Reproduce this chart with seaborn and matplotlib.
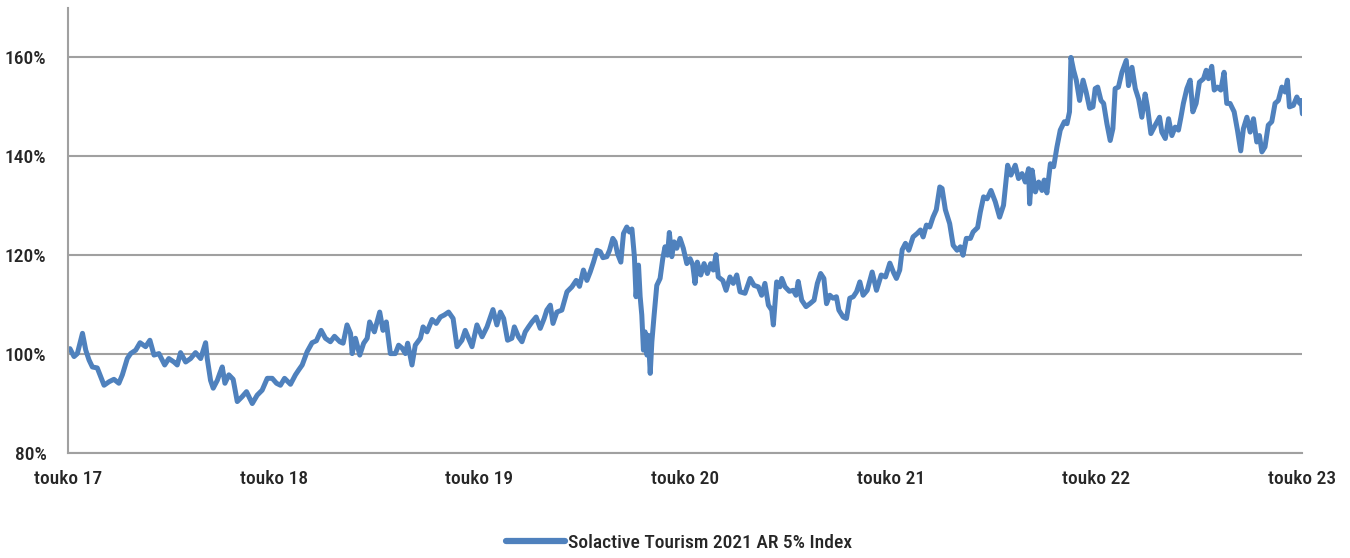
import pandas as pd
import numpy as np
import matplotlib
matplotlib.use("Agg")
import matplotlib.pyplot as plt
import seaborn as sns
from matplotlib.ticker import PercentFormatter
from matplotlib import font_manager

# decimal years, with the index level in %
year_pos = [
    2017.338, 2017.358, 2017.374, 2017.399, 2017.415, 2017.431, 2017.447, 2017.471, 2017.488, 2017.504,
    2017.528, 2017.552, 2017.576, 2017.593, 2017.617, 2017.633, 2017.658, 2017.679, 2017.706, 2017.727,
    2017.747, 2017.771, 2017.799, 2017.819, 2017.844, 2017.860, 2017.876, 2017.901, 2017.925, 2017.949,
    2017.974, 2017.998, 2018.006, 2018.022, 2018.035, 2018.055, 2018.067, 2018.079, 2018.092, 2018.111,
    2018.132, 2018.152, 2018.176, 2018.197, 2018.225, 2018.249, 2018.273, 2018.298, 2018.322, 2018.343,
    2018.362, 2018.382, 2018.411, 2018.435, 2018.451, 2018.468, 2018.492, 2018.516, 2018.537, 2018.560,
    2018.581, 2018.605, 2018.625, 2018.651, 2018.667, 2018.686, 2018.703, 2018.711, 2018.727, 2018.748,
    2018.767, 2018.784, 2018.796, 2018.819, 2018.845, 2018.861, 2018.877, 2018.897, 2018.921, 2018.937,
    2018.954, 2018.970, 2018.981, 2019.002, 2019.018, 2019.043, 2019.056, 2019.075, 2019.100, 2019.120,
    2019.140, 2019.159, 2019.180, 2019.202, 2019.221, 2019.245, 2019.261, 2019.277, 2019.294, 2019.318,
    2019.343, 2019.367, 2019.396, 2019.415, 2019.432, 2019.448, 2019.467, 2019.488, 2019.500, 2019.520,
    2019.537, 2019.553, 2019.569, 2019.586, 2019.606, 2019.626, 2019.645, 2019.658, 2019.675, 2019.688,
    2019.707, 2019.731, 2019.756, 2019.780, 2019.801, 2019.817, 2019.836, 2019.853, 2019.869, 2019.885,
    2019.902, 2019.918, 2019.931, 2019.950, 2019.963, 2019.979, 2019.990, 2020.002, 2020.018, 2020.031,
    2020.047, 2020.060, 2020.072, 2020.084, 2020.092, 2020.104, 2020.112, 2020.120, 2020.128, 2020.136,
    2020.145, 2020.152, 2020.161, 2020.169, 2020.180, 2020.193, 2020.209, 2020.222, 2020.233, 2020.245,
    2020.254, 2020.266, 2020.277, 2020.290, 2020.306, 2020.322, 2020.339, 2020.355, 2020.368, 2020.379,
    2020.390, 2020.407, 2020.423, 2020.439, 2020.455, 2020.468, 2020.481, 2020.492, 2020.514, 2020.530,
    2020.549, 2020.565, 2020.582, 2020.598, 2020.622, 2020.647, 2020.666, 2020.687, 2020.703, 2020.719,
    2020.736, 2020.752, 2020.760, 2020.776, 2020.792, 2020.801, 2020.817, 2020.838, 2020.857, 2020.870,
    2020.881, 2020.898, 2020.919, 2020.938, 2020.958, 2020.974, 2020.990, 2021.003, 2021.016, 2021.032,
    2021.048, 2021.064, 2021.076, 2021.097, 2021.113, 2021.129, 2021.146, 2021.162, 2021.178, 2021.194,
    2021.214, 2021.238, 2021.259, 2021.282, 2021.303, 2021.324, 2021.343, 2021.356, 2021.372, 2021.384,
    2021.400, 2021.416, 2021.437, 2021.457, 2021.473, 2021.486, 2021.502, 2021.518, 2021.534, 2021.550,
    2021.567, 2021.578, 2021.594, 2021.615, 2021.632, 2021.651, 2021.667, 2021.680, 2021.696, 2021.716,
    2021.729, 2021.751, 2021.764, 2021.780, 2021.797, 2021.816, 2021.837, 2021.858, 2021.877, 2021.897,
    2021.913, 2021.934, 2021.950, 2021.967, 2021.983, 2021.999, 2022.004, 2022.016, 2022.032, 2022.048,
    2022.064, 2022.075, 2022.088, 2022.105, 2022.121, 2022.137, 2022.153, 2022.173, 2022.186, 2022.198,
    2022.205, 2022.218, 2022.231, 2022.247, 2022.264, 2022.279, 2022.296, 2022.312, 2022.323, 2022.335,
    2022.351, 2022.364, 2022.380, 2022.396, 2022.409, 2022.420, 2022.436, 2022.453, 2022.474, 2022.485,
    2022.502, 2022.518, 2022.534, 2022.550, 2022.566, 2022.577, 2022.594, 2022.615, 2022.636, 2022.647,
    2022.664, 2022.680, 2022.696, 2022.712, 2022.728, 2022.740, 2022.752, 2022.769, 2022.785, 2022.798,
    2022.814, 2022.830, 2022.850, 2022.863, 2022.874, 2022.890, 2022.902, 2022.918, 2022.934, 2022.950,
    2022.963, 2022.979, 2022.999, 2023.015, 2023.031, 2023.044, 2023.061, 2023.077, 2023.093, 2023.109,
    2023.122, 2023.134, 2023.149, 2023.165, 2023.182, 2023.198, 2023.214, 2023.231, 2023.247, 2023.258,
    2023.268, 2023.287, 2023.304, 2023.318, 2023.325, 2023.331,
]
index_pct = [
    101.1, 99.5, 100.1, 104.2, 100.8, 98.8, 97.4, 97.2, 95.4, 93.7,
    94.4, 94.9, 94.1, 95.8, 99.1, 100.1, 100.8, 102.3, 101.5, 102.8,
    99.8, 100.1, 97.8, 99.1, 98.4, 97.8, 100.3, 98.4, 99.1, 100.3,
    99.1, 102.3, 99.1, 94.7, 93.1, 94.7, 96.1, 97.4, 94.1, 95.8,
    94.9, 90.4, 91.4, 92.4, 90.0, 91.7, 92.7, 95.1, 95.1, 94.1,
    93.7, 95.1, 93.9, 95.8, 96.8, 97.8, 100.5, 102.3, 102.7, 104.8,
    103.2, 102.5, 103.6, 102.5, 102.2, 105.9, 104.2, 100.1, 103.2, 99.8,
    102.2, 103.2, 106.5, 104.5, 108.5, 104.8, 106.5, 100.1, 100.1, 101.8,
    101.2, 100.1, 102.2, 97.8, 101.8, 103.2, 105.5, 104.5, 107.0, 106.2,
    107.5, 107.9, 108.5, 107.2, 101.5, 102.8, 104.8, 103.2, 101.5, 105.9,
    103.5, 105.5, 109.0, 105.9, 108.5, 107.2, 102.8, 103.2, 105.5, 103.5,
    102.5, 104.5, 105.5, 106.5, 107.5, 105.2, 107.2, 108.9, 109.9, 106.2,
    108.5, 108.9, 112.6, 113.6, 114.9, 113.7, 117.0, 114.9, 116.6, 118.6,
    121.0, 120.7, 119.5, 119.7, 121.0, 123.4, 122.7, 120.3, 118.6, 124.4,
    125.7, 124.7, 125.3, 119.7, 111.6, 118.0, 111.6, 107.9, 100.8, 104.5,
    99.8, 103.8, 96.1, 102.5, 107.9, 113.9, 115.3, 119.3, 121.7, 120.0,
    124.6, 119.7, 122.7, 121.4, 123.4, 121.4, 118.3, 119.3, 118.0, 114.3,
    118.6, 116.0, 118.3, 116.3, 118.3, 117.0, 120.1, 115.6, 114.9, 112.9,
    115.6, 114.3, 116.0, 112.6, 112.3, 115.3, 113.9, 113.6, 111.9, 114.3,
    109.9, 108.9, 105.9, 114.6, 113.6, 115.3, 113.6, 112.7, 112.9, 111.9,
    114.7, 110.9, 109.6, 110.2, 110.9, 114.3, 116.3, 115.3, 110.2, 111.9,
    111.3, 111.6, 108.9, 107.5, 107.2, 111.3, 111.6, 112.6, 114.6, 111.9,
    112.9, 116.6, 112.9, 116.0, 115.6, 118.4, 116.4, 115.3, 117.0, 121.1,
    122.4, 121.0, 123.7, 124.4, 125.1, 123.7, 126.1, 125.7, 127.7, 129.2,
    133.8, 133.5, 129.2, 126.4, 122.0, 121.0, 121.7, 120.0, 123.4, 123.4,
    124.7, 125.6, 128.7, 131.8, 131.4, 133.1, 130.8, 127.7, 130.1, 138.2,
    136.2, 138.2, 135.5, 136.5, 134.8, 137.5, 130.4, 137.2, 132.8, 134.8,
    133.1, 135.2, 132.6, 138.5, 137.9, 141.9, 145.3, 147.0, 146.6, 149.0,
    160.0, 157.4, 155.4, 151.3, 155.4, 153.0, 149.7, 150.0, 153.7, 154.0,
    151.3, 150.7, 146.6, 143.2, 145.6, 153.7, 154.0, 157.0, 159.4, 154.3,
    158.0, 153.7, 151.6, 147.9, 152.6, 150.0, 144.6, 146.3, 147.9, 144.9,
    143.6, 147.6, 144.2, 145.9, 145.3, 147.9, 150.7, 153.7, 155.4, 149.0,
    150.7, 155.0, 155.7, 157.4, 155.7, 158.2, 153.4, 154.0, 153.4, 157.0,
    150.7, 150.7, 149.0, 145.3, 141.1, 145.6, 147.9, 144.9, 147.6, 142.9,
    144.2, 140.9, 141.9, 146.3, 147.0, 150.7, 151.3, 154.0, 153.0, 155.4,
    150.0, 150.3, 152.0, 150.7, 151.3, 148.6,
]
series_name = "Solactive Tourism 2021 AR 5% Index"
tick_years = [2017, 2018, 2019, 2020, 2021, 2022, 2023]
y_ticks = [80, 100, 120, 140, 160]


def to_date(y):
    year = int(y)
    return pd.Timestamp(year, 1, 1) + pd.Timedelta(days=(y - year) * 365)


df = pd.DataFrame({"date": [to_date(y) for y in year_pos], "value": index_pct})

sns.set_style("white")

# pick a narrow face if the box has one
installed = {f.name for f in font_manager.fontManager.ttflist}
narrow = [n for n in ["Liberation Sans Narrow", "Noto Sans ExtraCondensed", "Noto Sans Condensed",
                      "Roboto Condensed", "Open Sans Condensed", "DejaVu Sans Condensed"] if n in installed]
plt.rcParams["font.family"] = narrow[:1] + ["DejaVu Sans"]
plt.rcParams["font.stretch"] = "condensed"
plt.rcParams["font.weight"] = "medium"
fsize = 14 if narrow else 11.5

grid_col = "#a0a0a0"
line_col = "#4f81bd"

fig = plt.figure(figsize=(13.5, 5.58), dpi=100)
ax = fig.add_axes([0.0504, 0.1882, 0.914, 0.7975])

sns.lineplot(data=df, x="date", y="value", ax=ax, color=line_col, lw=3.6,
             label=series_name, sort=False)

ax.set_ylim(80, 170)
ax.set_yticks(y_ticks)
ax.yaxis.set_major_formatter(PercentFormatter(decimals=0))
ax.set_xlim(pd.Timestamp("2017-05-01"), pd.Timestamp("2023-05-01"))
ax.set_xticks([pd.Timestamp(y, 5, 1) for y in tick_years])
ax.set_xticklabels([f"touko {y % 100}" for y in tick_years])
ax.set_xlabel("")
ax.set_ylabel("")

ax.grid(axis="y", color=grid_col, lw=1.5)
ax.set_axisbelow(True)
for s in ["top", "right"]:
    ax.spines[s].set_visible(False)
for s in ["left", "bottom"]:
    ax.spines[s].set_color(grid_col)
    ax.spines[s].set_linewidth(1.5)

ax.tick_params(axis="y", length=4.5, width=1.5, color=grid_col, pad=11, labelsize=fsize)
ax.tick_params(axis="x", length=5, width=1.5, color=grid_col, pad=7, labelsize=fsize)

ax.get_legend().remove()
h, l = ax.get_legend_handles_labels()
leg = fig.legend(h, l, loc="center", bbox_to_anchor=(0.503, 0.027), frameon=False,
                 fontsize=fsize, handlelength=3.0, handletextpad=0.15)
for line in leg.get_lines():
    line.set_linewidth(4.5)

fig.savefig("out.png", dpi=100)
